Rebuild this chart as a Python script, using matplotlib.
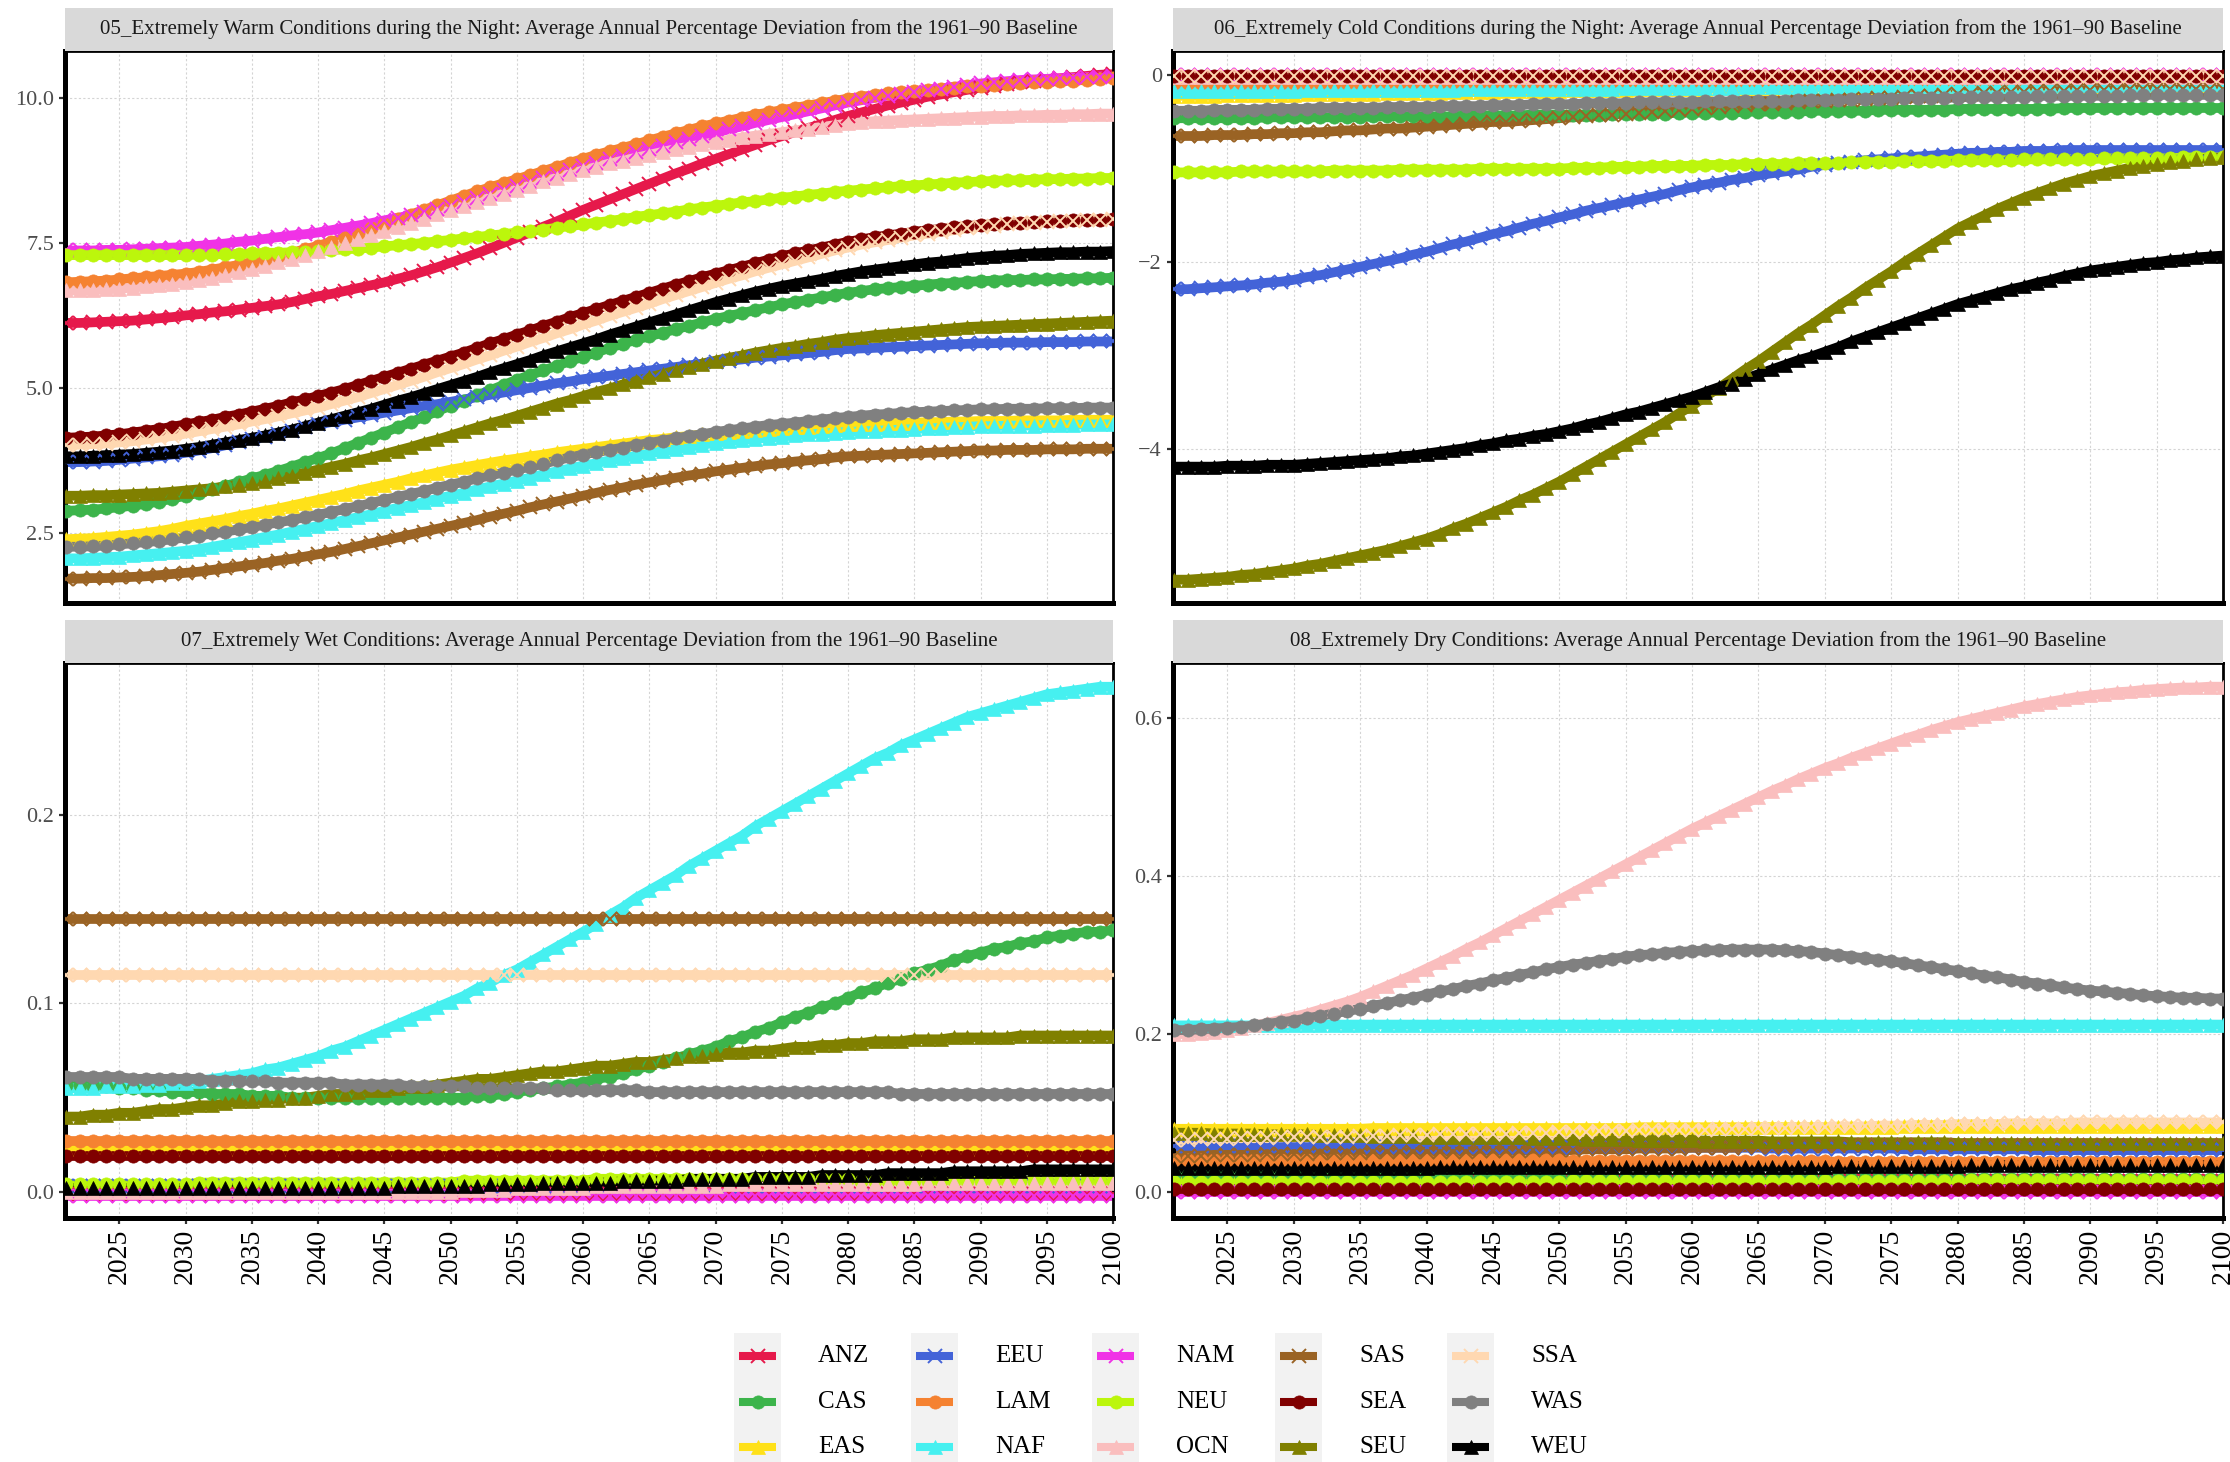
import matplotlib
matplotlib.use("Agg")
import matplotlib.pyplot as plt
from matplotlib.patches import Rectangle
from matplotlib.lines import Line2D

plt.rcParams['font.family'] = ['Liberation Serif', 'DejaVu Serif']

years = list(range(2021, 2101))
regions = ["ANZ", "CAS", "EAS", "EEU", "LAM", "NAF", "NAM", "NEU",
           "OCN", "SAS", "SEA", "SEU", "SSA", "WAS", "WEU"]
colors = {"ANZ": "#e6194b", "CAS": "#3cb44b", "EAS": "#ffe119", "EEU": "#4363d8",
          "LAM": "#f58231", "NAF": "#46f0f0", "NAM": "#f032e6", "NEU": "#bcf60c",
          "OCN": "#fabebe", "SAS": "#9a6324", "SEA": "#800000", "SEU": "#808000",
          "SSA": "#ffd8b1", "WAS": "#808080", "WEU": "#000000"}
markers = {"ANZ": "x", "EEU": "x", "NAM": "x", "SAS": "x", "SSA": "x",
           "CAS": "o", "LAM": "o", "NEU": "o", "SEA": "o", "WAS": "o",
           "EAS": "^", "NAF": "^", "OCN": "^", "SEU": "^", "WEU": "^"}

titles = [
    "05_Extremely Warm Conditions during the Night: Average Annual Percentage Deviation from the 1961\u201390 Baseline",
    "06_Extremely Cold Conditions during the Night: Average Annual Percentage Deviation from the 1961\u201390 Baseline",
    "07_Extremely Wet Conditions: Average Annual Percentage Deviation from the 1961\u201390 Baseline",
    "08_Extremely Dry Conditions: Average Annual Percentage Deviation from the 1961\u201390 Baseline",
]

# ---- 05 warm nights (one value per year 2021..2100) ----
warm_ANZ = [6.12,6.12,6.13,6.14,6.15,6.16,6.18,6.20,6.22,6.25,
            6.27,6.30,6.32,6.35,6.38,6.41,6.44,6.48,6.53,6.58,
            6.62,6.67,6.72,6.77,6.82,6.88,6.94,7.01,7.08,7.16,
            7.24,7.32,7.41,7.50,7.59,7.68,7.78,7.87,7.97,8.07,
            8.16,8.25,8.34,8.43,8.52,8.61,8.70,8.78,8.87,8.95,
            9.03,9.11,9.19,9.27,9.34,9.41,9.48,9.55,9.62,9.69,
            9.75,9.81,9.87,9.92,9.97,10.02,10.06,10.10,10.14,10.18,
            10.21,10.24,10.27,10.30,10.32,10.34,10.36,10.38,10.40,10.41]
warm_CAS = [2.88,2.89,2.90,2.92,2.94,2.97,3.00,3.04,3.09,3.14,
            3.19,3.25,3.31,3.37,3.44,3.50,3.57,3.64,3.72,3.79,
            3.87,3.96,4.05,4.14,4.23,4.32,4.41,4.50,4.60,4.69,
            4.78,4.87,4.96,5.05,5.14,5.22,5.30,5.38,5.46,5.54,
            5.61,5.69,5.76,5.83,5.89,5.95,6.01,6.07,6.13,6.19,
            6.24,6.29,6.34,6.39,6.44,6.48,6.52,6.56,6.60,6.64,
            6.67,6.70,6.72,6.74,6.76,6.78,6.80,6.81,6.83,6.84,
            6.85,6.86,6.86,6.87,6.87,6.88,6.88,6.89,6.89,6.90]
warm_EAS = [2.39,2.40,2.41,2.43,2.45,2.47,2.50,2.53,2.57,2.62,
            2.66,2.70,2.74,2.79,2.83,2.88,2.92,2.97,3.02,3.07,
            3.12,3.17,3.23,3.28,3.33,3.38,3.44,3.49,3.54,3.59,
            3.63,3.67,3.71,3.75,3.78,3.82,3.85,3.89,3.92,3.95,
            3.98,4.01,4.04,4.07,4.10,4.12,4.15,4.17,4.20,4.22,
            4.24,4.26,4.28,4.29,4.31,4.32,4.33,4.35,4.36,4.37,
            4.38,4.38,4.39,4.40,4.40,4.41,4.41,4.42,4.42,4.43,
            4.43,4.43,4.44,4.44,4.44,4.44,4.45,4.45,4.45,4.45]
warm_EEU = [3.72,3.72,3.73,3.74,3.76,3.78,3.80,3.82,3.85,3.88,
            3.92,3.96,4.01,4.06,4.11,4.16,4.21,4.26,4.32,4.37,
            4.41,4.45,4.49,4.53,4.57,4.61,4.65,4.69,4.72,4.76,
            4.80,4.84,4.88,4.92,4.96,5.00,5.04,5.08,5.11,5.15,
            5.18,5.21,5.24,5.27,5.30,5.33,5.36,5.39,5.41,5.44,
            5.47,5.49,5.52,5.54,5.56,5.58,5.60,5.62,5.65,5.67,
            5.68,5.69,5.70,5.71,5.72,5.73,5.74,5.75,5.76,5.77,
            5.77,5.78,5.78,5.78,5.79,5.79,5.79,5.80,5.80,5.80]
warm_LAM = [6.82,6.83,6.84,6.85,6.87,6.89,6.91,6.93,6.95,6.97,
            7.00,7.04,7.08,7.12,7.17,7.22,7.27,7.33,7.39,7.45,
            7.52,7.59,7.67,7.75,7.83,7.91,7.99,8.07,8.15,8.23,
            8.31,8.39,8.46,8.53,8.60,8.67,8.74,8.81,8.88,8.95,
            9.02,9.08,9.14,9.20,9.27,9.33,9.39,9.45,9.51,9.56,
            9.61,9.66,9.71,9.75,9.79,9.83,9.87,9.91,9.95,9.99,
            10.02,10.05,10.08,10.10,10.12,10.14,10.16,10.18,10.20,10.21,
            10.23,10.24,10.26,10.27,10.28,10.29,10.30,10.31,10.33,10.34]
warm_NAF = [2.06,2.06,2.07,2.08,2.09,2.11,2.13,2.15,2.17,2.19,
            2.22,2.26,2.30,2.34,2.38,2.43,2.47,2.52,2.57,2.62,
            2.67,2.72,2.77,2.82,2.88,2.93,2.98,3.03,3.09,3.14,
            3.19,3.25,3.30,3.35,3.40,3.45,3.51,3.56,3.61,3.66,
            3.70,3.75,3.79,3.83,3.87,3.91,3.94,3.98,4.02,4.05,
            4.08,4.10,4.12,4.14,4.16,4.18,4.20,4.21,4.23,4.24,
            4.25,4.26,4.27,4.28,4.29,4.30,4.31,4.32,4.33,4.34,
            4.34,4.35,4.35,4.35,4.36,4.36,4.36,4.37,4.37,4.37]
warm_NAM = [7.37,7.37,7.37,7.38,7.38,7.39,7.40,7.41,7.42,7.43,
            7.45,7.47,7.49,7.52,7.54,7.57,7.60,7.63,7.65,7.68,
            7.72,7.76,7.80,7.84,7.89,7.93,7.98,8.03,8.08,8.14,
            8.20,8.27,8.34,8.41,8.48,8.55,8.62,8.69,8.76,8.82,
            8.88,8.94,9.00,9.06,9.12,9.18,9.24,9.29,9.35,9.40,
            9.46,9.51,9.57,9.62,9.67,9.72,9.77,9.82,9.87,9.92,
            9.96,10.00,10.04,10.07,10.10,10.13,10.16,10.19,10.22,10.25,
            10.27,10.29,10.31,10.32,10.33,10.34,10.35,10.36,10.37,10.38]
warm_NEU = [7.29,7.29,7.29,7.29,7.29,7.29,7.29,7.29,7.29,7.29,
            7.30,7.30,7.31,7.31,7.32,7.33,7.33,7.34,7.35,7.36,
            7.37,7.39,7.40,7.42,7.44,7.46,7.48,7.50,7.53,7.55,
            7.58,7.60,7.63,7.65,7.68,7.71,7.73,7.76,7.79,7.82,
            7.85,7.88,7.91,7.95,7.98,8.01,8.04,8.08,8.11,8.14,
            8.17,8.20,8.22,8.25,8.28,8.30,8.33,8.35,8.38,8.40,
            8.42,8.44,8.46,8.48,8.49,8.51,8.52,8.54,8.55,8.56,
            8.57,8.58,8.58,8.59,8.60,8.60,8.61,8.61,8.62,8.62]
warm_OCN = [6.68,6.68,6.69,6.70,6.71,6.73,6.75,6.77,6.79,6.82,
            6.86,6.90,6.95,7.00,7.05,7.11,7.17,7.23,7.30,7.36,
            7.43,7.50,7.57,7.64,7.71,7.78,7.85,7.92,8.00,8.07,
            8.14,8.21,8.28,8.35,8.42,8.49,8.56,8.62,8.69,8.75,
            8.81,8.87,8.92,8.97,9.02,9.07,9.12,9.16,9.20,9.24,
            9.28,9.32,9.35,9.38,9.41,9.44,9.47,9.50,9.53,9.56,
            9.58,9.60,9.61,9.62,9.63,9.64,9.65,9.66,9.67,9.68,
            9.69,9.69,9.70,9.70,9.71,9.71,9.72,9.72,9.73,9.73]
warm_SAS = [1.71,1.71,1.72,1.72,1.73,1.74,1.75,1.77,1.79,1.81,
            1.83,1.86,1.89,1.92,1.95,1.98,2.02,2.05,2.09,2.13,
            2.17,2.22,2.27,2.32,2.37,2.42,2.47,2.52,2.57,2.62,
            2.67,2.72,2.78,2.83,2.88,2.94,2.99,3.04,3.09,3.14,
            3.19,3.24,3.28,3.33,3.37,3.41,3.45,3.49,3.52,3.56,
            3.59,3.62,3.65,3.68,3.70,3.73,3.75,3.77,3.80,3.82,
            3.83,3.84,3.85,3.86,3.87,3.88,3.89,3.90,3.91,3.92,
            3.92,3.93,3.93,3.93,3.94,3.94,3.94,3.95,3.95,3.95]
warm_SEA = [4.14,4.15,4.16,4.18,4.20,4.23,4.26,4.29,4.33,4.37,
            4.41,4.45,4.50,4.54,4.59,4.64,4.69,4.75,4.80,4.86,
            4.92,4.98,5.05,5.12,5.19,5.26,5.33,5.40,5.47,5.54,
            5.61,5.69,5.77,5.84,5.92,5.99,6.07,6.14,6.22,6.29,
            6.36,6.43,6.50,6.57,6.64,6.71,6.78,6.84,6.91,6.97,
            7.03,7.09,7.15,7.21,7.27,7.32,7.37,7.42,7.47,7.52,
            7.56,7.60,7.63,7.66,7.69,7.72,7.74,7.77,7.79,7.81,
            7.82,7.84,7.85,7.86,7.87,7.88,7.89,7.90,7.90,7.91]
warm_SEU = [3.14,3.14,3.15,3.15,3.16,3.17,3.18,3.19,3.21,3.23,
            3.25,3.27,3.30,3.33,3.36,3.40,3.44,3.48,3.54,3.59,
            3.64,3.69,3.75,3.80,3.86,3.92,3.98,4.05,4.11,4.18,
            4.25,4.32,4.39,4.45,4.52,4.59,4.66,4.73,4.79,4.86,
            4.93,4.99,5.06,5.12,5.18,5.24,5.30,5.36,5.42,5.47,
            5.52,5.56,5.61,5.65,5.69,5.72,5.76,5.79,5.83,5.86,
            5.88,5.91,5.93,5.95,5.97,5.99,6.01,6.03,6.05,6.06,
            6.07,6.08,6.09,6.10,6.11,6.12,6.13,6.14,6.15,6.16]
warm_SSA = [4.01,4.02,4.03,4.04,4.06,4.08,4.11,4.14,4.17,4.21,
            4.25,4.29,4.33,4.37,4.42,4.46,4.51,4.56,4.61,4.66,
            4.72,4.78,4.84,4.91,4.98,5.05,5.12,5.19,5.27,5.34,
            5.41,5.49,5.56,5.64,5.71,5.79,5.86,5.94,6.01,6.09,
            6.16,6.24,6.31,6.38,6.45,6.53,6.60,6.67,6.74,6.81,
            6.88,6.94,7.01,7.07,7.13,7.19,7.25,7.31,7.37,7.42,
            7.47,7.51,7.55,7.59,7.63,7.66,7.69,7.72,7.75,7.78,
            7.80,7.82,7.84,7.85,7.86,7.87,7.88,7.89,7.90,7.91]
warm_WAS = [2.26,2.26,2.27,2.28,2.30,2.32,2.34,2.36,2.39,2.42,
            2.45,2.49,2.52,2.56,2.60,2.64,2.68,2.72,2.77,2.81,
            2.86,2.91,2.96,3.01,3.07,3.12,3.17,3.22,3.28,3.33,
            3.38,3.44,3.49,3.54,3.59,3.64,3.69,3.75,3.80,3.85,
            3.89,3.93,3.97,4.01,4.05,4.09,4.13,4.17,4.20,4.24,
            4.27,4.30,4.33,4.36,4.38,4.40,4.43,4.45,4.48,4.50,
            4.52,4.54,4.55,4.57,4.58,4.59,4.60,4.61,4.62,4.63,
            4.63,4.64,4.64,4.64,4.65,4.65,4.65,4.66,4.66,4.66]
warm_WEU = [3.82,3.82,3.83,3.84,3.85,3.86,3.88,3.90,3.92,3.95,
            3.98,4.02,4.06,4.10,4.14,4.18,4.23,4.28,4.34,4.40,
            4.46,4.52,4.58,4.64,4.71,4.78,4.84,4.91,4.98,5.05,
            5.12,5.19,5.27,5.34,5.41,5.48,5.56,5.63,5.70,5.77,
            5.84,5.92,5.99,6.06,6.13,6.20,6.27,6.34,6.41,6.48,
            6.54,6.60,6.66,6.71,6.76,6.80,6.84,6.88,6.93,6.97,
            7.01,7.04,7.07,7.10,7.13,7.16,7.18,7.21,7.24,7.26,
            7.28,7.29,7.31,7.32,7.33,7.34,7.34,7.35,7.35,7.36]

# ---- 06 cold nights ----
cold_ANZ = [-0.01,-0.01,-0.01,-0.01,-0.01,-0.01,-0.01,-0.01,-0.01,-0.01,
            -0.01,-0.01,-0.01,-0.01,-0.01,-0.01,-0.01,-0.01,-0.01,-0.01,
            -0.01,-0.01,-0.01,-0.01,-0.01,-0.01,-0.01,-0.01,-0.01,-0.01,
            -0.01,-0.01,-0.01,-0.01,-0.01,-0.01,-0.01,-0.01,-0.01,-0.01,
            -0.01,-0.01,-0.01,-0.01,-0.01,-0.01,-0.01,-0.01,-0.01,-0.01,
            -0.01,-0.01,-0.01,-0.01,-0.01,-0.01,-0.01,-0.01,-0.01,-0.01,
            -0.01,-0.01,-0.01,-0.01,-0.01,-0.01,-0.01,-0.01,-0.01,-0.01,
            -0.01,-0.01,-0.01,-0.01,-0.01,-0.01,-0.01,-0.01,-0.01,-0.01]
cold_CAS = [-0.46,-0.46,-0.46,-0.46,-0.46,-0.46,-0.46,-0.45,-0.45,-0.45,
            -0.45,-0.45,-0.45,-0.45,-0.45,-0.44,-0.44,-0.44,-0.44,-0.44,
            -0.44,-0.44,-0.43,-0.43,-0.43,-0.43,-0.43,-0.42,-0.42,-0.42,
            -0.42,-0.42,-0.42,-0.41,-0.41,-0.41,-0.41,-0.41,-0.40,-0.40,
            -0.40,-0.40,-0.40,-0.39,-0.39,-0.39,-0.39,-0.39,-0.38,-0.38,
            -0.38,-0.38,-0.38,-0.37,-0.37,-0.37,-0.37,-0.37,-0.37,-0.36,
            -0.36,-0.36,-0.36,-0.36,-0.36,-0.36,-0.36,-0.35,-0.35,-0.35,
            -0.35,-0.35,-0.35,-0.35,-0.35,-0.35,-0.35,-0.35,-0.35,-0.35]
cold_EAS = [-0.22,-0.22,-0.22,-0.22,-0.21,-0.21,-0.21,-0.21,-0.21,-0.21,
            -0.20,-0.20,-0.20,-0.20,-0.20,-0.20,-0.19,-0.19,-0.19,-0.19,
            -0.19,-0.18,-0.18,-0.18,-0.18,-0.17,-0.17,-0.17,-0.17,-0.17,
            -0.16,-0.16,-0.16,-0.16,-0.16,-0.15,-0.15,-0.15,-0.15,-0.15,
            -0.15,-0.14,-0.14,-0.14,-0.14,-0.14,-0.13,-0.13,-0.13,-0.13,
            -0.13,-0.13,-0.13,-0.12,-0.12,-0.12,-0.12,-0.12,-0.12,-0.12,
            -0.12,-0.11,-0.11,-0.11,-0.11,-0.11,-0.11,-0.11,-0.11,-0.11,
            -0.11,-0.11,-0.10,-0.10,-0.10,-0.10,-0.10,-0.10,-0.10,-0.10]
cold_EEU = [-2.29,-2.29,-2.28,-2.27,-2.26,-2.25,-2.24,-2.22,-2.21,-2.19,
            -2.16,-2.14,-2.11,-2.08,-2.05,-2.02,-1.99,-1.96,-1.92,-1.89,
            -1.85,-1.81,-1.78,-1.74,-1.70,-1.67,-1.63,-1.59,-1.56,-1.52,
            -1.49,-1.45,-1.42,-1.39,-1.36,-1.33,-1.30,-1.27,-1.23,-1.20,
            -1.17,-1.15,-1.12,-1.10,-1.07,-1.05,-1.03,-1.01,-0.98,-0.96,
            -0.94,-0.93,-0.91,-0.90,-0.89,-0.88,-0.87,-0.86,-0.85,-0.84,
            -0.83,-0.83,-0.82,-0.82,-0.81,-0.81,-0.81,-0.80,-0.80,-0.80,
            -0.80,-0.80,-0.80,-0.80,-0.80,-0.80,-0.80,-0.80,-0.80,-0.80]
cold_LAM = [-0.08,-0.08,-0.08,-0.08,-0.08,-0.08,-0.08,-0.08,-0.08,-0.08,
            -0.08,-0.08,-0.08,-0.08,-0.08,-0.07,-0.07,-0.07,-0.07,-0.07,
            -0.07,-0.07,-0.07,-0.07,-0.07,-0.07,-0.07,-0.07,-0.07,-0.07,
            -0.06,-0.06,-0.06,-0.06,-0.06,-0.06,-0.06,-0.06,-0.06,-0.06,
            -0.06,-0.06,-0.06,-0.06,-0.06,-0.05,-0.05,-0.05,-0.05,-0.05,
            -0.05,-0.05,-0.05,-0.05,-0.05,-0.05,-0.05,-0.05,-0.05,-0.05,
            -0.05,-0.05,-0.05,-0.05,-0.05,-0.04,-0.04,-0.04,-0.04,-0.04,
            -0.04,-0.04,-0.04,-0.04,-0.04,-0.04,-0.04,-0.04,-0.04,-0.04]
cold_NAF = [-0.17,-0.17,-0.17,-0.17,-0.17,-0.17,-0.17,-0.17,-0.17,-0.17,
            -0.16,-0.16,-0.16,-0.16,-0.16,-0.16,-0.16,-0.16,-0.16,-0.16,
            -0.16,-0.16,-0.15,-0.15,-0.15,-0.15,-0.15,-0.15,-0.15,-0.15,
            -0.15,-0.15,-0.15,-0.15,-0.14,-0.14,-0.14,-0.14,-0.14,-0.14,
            -0.14,-0.14,-0.14,-0.13,-0.13,-0.13,-0.13,-0.13,-0.13,-0.13,
            -0.13,-0.12,-0.12,-0.12,-0.12,-0.12,-0.12,-0.12,-0.12,-0.11,
            -0.11,-0.11,-0.11,-0.11,-0.11,-0.11,-0.11,-0.10,-0.10,-0.10,
            -0.10,-0.10,-0.10,-0.10,-0.09,-0.09,-0.09,-0.09,-0.09,-0.09]
cold_NAM = [0.00,0.00,0.00,0.00,0.00,0.00,0.00,0.00,0.00,0.00,
            0.00,0.00,0.00,0.00,0.00,0.00,0.00,0.00,0.00,0.00,
            0.00,0.00,0.00,0.00,0.00,0.00,0.00,0.00,0.00,0.00,
            0.00,0.00,0.00,0.00,0.00,0.00,0.00,0.00,0.00,0.00,
            0.00,0.00,0.00,0.00,0.00,0.00,0.00,0.00,0.00,0.00,
            0.00,0.00,0.00,0.00,0.00,0.00,0.00,0.00,0.00,0.00,
            0.00,0.00,0.00,0.00,0.00,0.00,0.00,0.00,0.00,0.00,
            0.00,0.00,0.00,0.00,0.00,0.00,0.00,0.00,0.00,0.00]
cold_NEU = [-1.04,-1.04,-1.04,-1.04,-1.04,-1.03,-1.03,-1.03,-1.03,-1.03,
            -1.03,-1.03,-1.02,-1.02,-1.02,-1.02,-1.02,-1.01,-1.01,-1.01,
            -1.01,-1.01,-1.01,-1.00,-1.00,-1.00,-1.00,-1.00,-1.00,-1.00,
            -0.99,-0.99,-0.99,-0.98,-0.98,-0.98,-0.97,-0.97,-0.97,-0.97,
            -0.96,-0.96,-0.96,-0.95,-0.95,-0.95,-0.95,-0.94,-0.94,-0.94,
            -0.94,-0.93,-0.93,-0.93,-0.93,-0.92,-0.92,-0.92,-0.92,-0.91,
            -0.91,-0.91,-0.91,-0.91,-0.90,-0.90,-0.90,-0.90,-0.90,-0.90,
            -0.89,-0.89,-0.89,-0.89,-0.89,-0.89,-0.88,-0.88,-0.88,-0.88]
cold_OCN = [-0.02,-0.02,-0.02,-0.02,-0.02,-0.02,-0.02,-0.02,-0.02,-0.02,
            -0.02,-0.02,-0.02,-0.02,-0.02,-0.02,-0.02,-0.02,-0.02,-0.02,
            -0.02,-0.02,-0.02,-0.02,-0.02,-0.02,-0.02,-0.02,-0.02,-0.02,
            -0.02,-0.02,-0.02,-0.02,-0.02,-0.02,-0.02,-0.02,-0.02,-0.02,
            -0.02,-0.02,-0.02,-0.02,-0.02,-0.02,-0.02,-0.02,-0.02,-0.02,
            -0.02,-0.02,-0.02,-0.02,-0.02,-0.02,-0.02,-0.02,-0.02,-0.02,
            -0.02,-0.02,-0.02,-0.02,-0.02,-0.02,-0.02,-0.02,-0.02,-0.02,
            -0.02,-0.02,-0.02,-0.02,-0.02,-0.02,-0.02,-0.02,-0.02,-0.02]
cold_SAS = [-0.65,-0.65,-0.65,-0.64,-0.64,-0.64,-0.63,-0.63,-0.62,-0.62,
            -0.61,-0.61,-0.60,-0.59,-0.59,-0.58,-0.57,-0.57,-0.56,-0.55,
            -0.54,-0.53,-0.52,-0.51,-0.50,-0.50,-0.49,-0.48,-0.47,-0.46,
            -0.45,-0.44,-0.43,-0.42,-0.41,-0.40,-0.39,-0.38,-0.37,-0.36,
            -0.35,-0.34,-0.33,-0.32,-0.31,-0.31,-0.30,-0.29,-0.28,-0.27,
            -0.26,-0.26,-0.25,-0.24,-0.24,-0.23,-0.22,-0.22,-0.21,-0.20,
            -0.20,-0.19,-0.19,-0.18,-0.18,-0.17,-0.17,-0.17,-0.16,-0.16,
            -0.16,-0.16,-0.15,-0.15,-0.15,-0.15,-0.15,-0.15,-0.15,-0.15]
cold_SEA = [-0.01,-0.01,-0.01,-0.01,-0.01,-0.01,-0.01,-0.01,-0.01,-0.01,
            -0.01,-0.01,-0.01,-0.01,-0.01,-0.01,-0.01,-0.01,-0.01,-0.01,
            -0.01,-0.01,-0.01,-0.01,-0.01,-0.01,-0.01,-0.01,-0.01,-0.01,
            -0.01,-0.01,-0.01,-0.01,-0.01,-0.01,-0.01,-0.01,-0.01,-0.01,
            -0.01,-0.01,-0.01,-0.01,-0.01,-0.01,-0.01,-0.01,-0.01,-0.01,
            -0.01,-0.01,-0.01,-0.01,-0.01,-0.01,-0.01,-0.01,-0.01,-0.01,
            -0.01,-0.01,-0.01,-0.01,-0.01,-0.01,-0.01,-0.01,-0.01,-0.01,
            -0.01,-0.01,-0.01,-0.01,-0.01,-0.01,-0.01,-0.01,-0.01,-0.01]
cold_SEU = [-5.40,-5.40,-5.39,-5.38,-5.37,-5.35,-5.34,-5.32,-5.30,-5.28,
            -5.25,-5.23,-5.20,-5.17,-5.14,-5.11,-5.08,-5.04,-5.00,-4.96,
            -4.91,-4.85,-4.80,-4.74,-4.68,-4.62,-4.55,-4.49,-4.42,-4.35,
            -4.27,-4.19,-4.11,-4.03,-3.95,-3.87,-3.79,-3.71,-3.62,-3.54,
            -3.44,-3.35,-3.25,-3.15,-3.06,-2.96,-2.86,-2.76,-2.67,-2.57,
            -2.47,-2.38,-2.28,-2.19,-2.10,-2.00,-1.91,-1.82,-1.73,-1.64,
            -1.57,-1.50,-1.43,-1.37,-1.31,-1.26,-1.21,-1.16,-1.12,-1.08,
            -1.05,-1.02,-0.99,-0.97,-0.95,-0.93,-0.92,-0.90,-0.89,-0.88]
cold_SSA = [-0.01,-0.01,-0.01,-0.01,-0.01,-0.01,-0.01,-0.01,-0.01,-0.01,
            -0.01,-0.01,-0.01,-0.01,-0.01,-0.01,-0.01,-0.01,-0.01,-0.01,
            -0.01,-0.01,-0.01,-0.01,-0.01,-0.01,-0.01,-0.01,-0.01,-0.01,
            -0.01,-0.01,-0.01,-0.01,-0.01,-0.01,-0.01,-0.01,-0.01,-0.01,
            -0.01,-0.01,-0.01,-0.01,-0.01,-0.01,-0.01,-0.01,-0.01,-0.01,
            -0.01,-0.01,-0.01,-0.01,-0.01,-0.01,-0.01,-0.01,-0.01,-0.01,
            -0.01,-0.01,-0.01,-0.01,-0.01,-0.01,-0.01,-0.01,-0.01,-0.01,
            -0.01,-0.01,-0.01,-0.01,-0.01,-0.01,-0.01,-0.01,-0.01,-0.01]
cold_WAS = [-0.38,-0.38,-0.38,-0.37,-0.37,-0.37,-0.37,-0.36,-0.36,-0.36,
            -0.36,-0.35,-0.35,-0.35,-0.35,-0.35,-0.34,-0.34,-0.34,-0.34,
            -0.33,-0.33,-0.33,-0.33,-0.32,-0.32,-0.32,-0.31,-0.31,-0.31,
            -0.31,-0.30,-0.30,-0.30,-0.30,-0.29,-0.29,-0.29,-0.29,-0.29,
            -0.28,-0.28,-0.28,-0.27,-0.27,-0.27,-0.27,-0.26,-0.26,-0.26,
            -0.26,-0.25,-0.25,-0.25,-0.25,-0.24,-0.24,-0.24,-0.24,-0.24,
            -0.23,-0.23,-0.23,-0.23,-0.23,-0.22,-0.22,-0.22,-0.22,-0.22,
            -0.22,-0.22,-0.21,-0.21,-0.21,-0.21,-0.21,-0.21,-0.21,-0.21]
cold_WEU = [-4.19,-4.19,-4.19,-4.19,-4.18,-4.18,-4.18,-4.17,-4.17,-4.17,
            -4.16,-4.15,-4.14,-4.13,-4.12,-4.11,-4.10,-4.08,-4.07,-4.05,
            -4.03,-4.01,-3.99,-3.96,-3.94,-3.91,-3.89,-3.86,-3.84,-3.81,
            -3.78,-3.74,-3.71,-3.67,-3.63,-3.60,-3.56,-3.52,-3.48,-3.44,
            -3.39,-3.34,-3.30,-3.25,-3.20,-3.15,-3.10,-3.05,-3.01,-2.96,
            -2.91,-2.85,-2.80,-2.75,-2.70,-2.65,-2.60,-2.55,-2.50,-2.45,
            -2.41,-2.37,-2.33,-2.29,-2.26,-2.22,-2.19,-2.15,-2.12,-2.09,
            -2.07,-2.05,-2.03,-2.01,-2.00,-1.98,-1.97,-1.95,-1.94,-1.93]

# ---- 07 wet conditions ----
wet_ANZ = [-0.001,-0.001,-0.001,-0.001,-0.001,-0.001,-0.001,-0.001,-0.001,-0.001,
           -0.001,-0.001,-0.001,-0.001,-0.001,-0.001,-0.001,-0.001,-0.001,-0.001,
           -0.001,-0.001,-0.001,-0.001,-0.001,-0.001,-0.001,-0.001,-0.001,-0.001,
           -0.001,-0.001,-0.001,-0.001,-0.001,-0.001,-0.001,-0.001,-0.001,-0.001,
           -0.001,-0.001,-0.001,-0.001,-0.001,-0.001,-0.001,-0.001,-0.001,-0.001,
           -0.001,-0.001,-0.001,-0.001,-0.001,-0.001,-0.001,-0.001,-0.001,-0.001,
           -0.001,-0.001,-0.001,-0.001,-0.001,-0.001,-0.001,-0.001,-0.001,-0.001,
           -0.001,-0.001,-0.001,-0.001,-0.001,-0.001,-0.001,-0.001,-0.001,-0.001]
wet_CAS = [0.057,0.057,0.056,0.056,0.055,0.055,0.054,0.054,0.053,0.053,
           0.053,0.052,0.052,0.052,0.051,0.051,0.051,0.050,0.050,0.050,
           0.050,0.050,0.050,0.050,0.050,0.050,0.050,0.050,0.050,0.050,
           0.050,0.051,0.051,0.052,0.053,0.054,0.055,0.056,0.057,0.058,
           0.060,0.061,0.063,0.065,0.067,0.069,0.071,0.073,0.075,0.077,
           0.080,0.082,0.085,0.087,0.090,0.093,0.095,0.098,0.100,0.103,
           0.106,0.108,0.111,0.113,0.116,0.118,0.120,0.123,0.125,0.127,
           0.129,0.130,0.132,0.133,0.135,0.136,0.137,0.138,0.138,0.139]
wet_EAS = [0.023,0.023,0.023,0.023,0.023,0.023,0.023,0.023,0.023,0.023,
           0.023,0.023,0.023,0.023,0.023,0.023,0.023,0.023,0.023,0.023,
           0.023,0.023,0.023,0.023,0.023,0.023,0.023,0.023,0.023,0.023,
           0.023,0.023,0.023,0.023,0.023,0.023,0.023,0.023,0.023,0.023,
           0.023,0.023,0.023,0.023,0.023,0.023,0.023,0.023,0.023,0.023,
           0.023,0.023,0.023,0.023,0.023,0.023,0.023,0.023,0.023,0.023,
           0.023,0.023,0.023,0.023,0.023,0.023,0.023,0.023,0.023,0.023,
           0.023,0.023,0.023,0.023,0.023,0.023,0.023,0.023,0.023,0.023]
wet_EEU = [0.003,0.003,0.003,0.003,0.003,0.003,0.003,0.003,0.003,0.003,
           0.003,0.003,0.003,0.003,0.003,0.003,0.003,0.003,0.003,0.003,
           0.003,0.003,0.003,0.003,0.003,0.003,0.003,0.003,0.003,0.003,
           0.003,0.003,0.003,0.003,0.003,0.003,0.003,0.003,0.003,0.003,
           0.003,0.003,0.003,0.003,0.003,0.003,0.003,0.003,0.003,0.003,
           0.003,0.003,0.003,0.003,0.003,0.003,0.003,0.003,0.003,0.003,
           0.003,0.003,0.003,0.003,0.003,0.003,0.003,0.003,0.003,0.003,
           0.003,0.003,0.003,0.003,0.003,0.003,0.003,0.003,0.003,0.003]
wet_LAM = [0.027,0.027,0.027,0.027,0.027,0.027,0.027,0.027,0.027,0.027,
           0.027,0.027,0.027,0.027,0.027,0.027,0.027,0.027,0.027,0.027,
           0.027,0.027,0.027,0.027,0.027,0.027,0.027,0.027,0.027,0.027,
           0.027,0.027,0.027,0.027,0.027,0.027,0.027,0.027,0.027,0.027,
           0.027,0.027,0.027,0.027,0.027,0.027,0.027,0.027,0.027,0.027,
           0.027,0.027,0.027,0.027,0.027,0.027,0.027,0.027,0.027,0.027,
           0.027,0.027,0.027,0.027,0.027,0.027,0.027,0.027,0.027,0.027,
           0.027,0.027,0.027,0.027,0.027,0.027,0.027,0.027,0.027,0.027]
wet_NAF = [0.055,0.055,0.055,0.056,0.056,0.056,0.057,0.057,0.058,0.058,
           0.059,0.060,0.061,0.062,0.063,0.065,0.066,0.068,0.070,0.072,
           0.075,0.077,0.080,0.083,0.086,0.089,0.092,0.095,0.098,0.101,
           0.104,0.108,0.111,0.115,0.118,0.122,0.126,0.130,0.134,0.138,
           0.142,0.147,0.151,0.156,0.160,0.164,0.168,0.173,0.177,0.181,
           0.185,0.189,0.194,0.198,0.202,0.206,0.210,0.214,0.218,0.222,
           0.226,0.230,0.233,0.237,0.240,0.243,0.246,0.249,0.252,0.254,
           0.256,0.258,0.260,0.262,0.264,0.265,0.266,0.267,0.268,0.268]
wet_NAM = [-0.002,-0.002,-0.002,-0.002,-0.002,-0.002,-0.002,-0.002,-0.002,-0.002,
           -0.002,-0.002,-0.002,-0.002,-0.002,-0.002,-0.002,-0.002,-0.002,-0.002,
           -0.002,-0.002,-0.002,-0.002,-0.002,-0.002,-0.002,-0.002,-0.002,-0.002,
           -0.002,-0.002,-0.002,-0.002,-0.002,-0.002,-0.002,-0.002,-0.002,-0.002,
           -0.002,-0.002,-0.002,-0.002,-0.002,-0.002,-0.002,-0.002,-0.002,-0.002,
           -0.002,-0.002,-0.002,-0.002,-0.002,-0.002,-0.002,-0.002,-0.002,-0.002,
           -0.002,-0.002,-0.002,-0.002,-0.002,-0.002,-0.002,-0.002,-0.002,-0.002,
           -0.002,-0.002,-0.002,-0.002,-0.002,-0.002,-0.002,-0.002,-0.002,-0.002]
wet_NEU = [0.004,0.004,0.004,0.004,0.004,0.004,0.004,0.004,0.004,0.004,
           0.005,0.005,0.005,0.005,0.005,0.005,0.005,0.005,0.005,0.005,
           0.005,0.005,0.005,0.005,0.005,0.005,0.005,0.005,0.005,0.005,
           0.006,0.006,0.006,0.006,0.006,0.006,0.006,0.006,0.006,0.006,
           0.007,0.007,0.007,0.007,0.007,0.007,0.007,0.007,0.007,0.007,
           0.007,0.007,0.007,0.007,0.007,0.007,0.007,0.007,0.007,0.007,
           0.006,0.006,0.006,0.006,0.006,0.006,0.006,0.006,0.006,0.006,
           0.006,0.006,0.006,0.006,0.006,0.006,0.006,0.006,0.006,0.006]
wet_OCN = [0.000,0.000,0.000,0.000,0.000,0.000,0.000,0.000,0.000,0.000,
           0.000,0.000,0.000,0.000,0.000,0.000,0.000,0.000,0.000,0.000,
           0.000,0.000,0.000,0.000,0.000,0.000,0.000,0.000,0.000,0.000,
           0.001,0.001,0.001,0.001,0.002,0.002,0.002,0.002,0.002,0.002,
           0.003,0.003,0.003,0.003,0.003,0.003,0.003,0.003,0.003,0.003,
           0.004,0.004,0.004,0.004,0.004,0.004,0.004,0.004,0.004,0.004,
           0.004,0.004,0.004,0.004,0.004,0.005,0.005,0.005,0.005,0.005,
           0.005,0.005,0.005,0.005,0.005,0.005,0.005,0.005,0.005,0.005]
wet_SAS = [0.145,0.145,0.145,0.145,0.145,0.145,0.145,0.145,0.145,0.145,
           0.145,0.145,0.145,0.145,0.145,0.145,0.145,0.145,0.145,0.145,
           0.145,0.145,0.145,0.145,0.145,0.145,0.145,0.145,0.145,0.145,
           0.145,0.145,0.145,0.145,0.145,0.145,0.145,0.145,0.145,0.145,
           0.145,0.145,0.145,0.145,0.145,0.145,0.145,0.145,0.145,0.145,
           0.145,0.145,0.145,0.145,0.145,0.145,0.145,0.145,0.145,0.145,
           0.145,0.145,0.145,0.145,0.145,0.145,0.145,0.145,0.145,0.145,
           0.145,0.145,0.145,0.145,0.145,0.145,0.145,0.145,0.145,0.145]
wet_SEA = [0.019,0.019,0.019,0.019,0.019,0.019,0.019,0.019,0.019,0.019,
           0.019,0.019,0.019,0.019,0.019,0.019,0.019,0.019,0.019,0.019,
           0.019,0.019,0.019,0.019,0.019,0.019,0.019,0.019,0.019,0.019,
           0.019,0.019,0.019,0.019,0.019,0.019,0.019,0.019,0.019,0.019,
           0.019,0.019,0.019,0.019,0.019,0.019,0.019,0.019,0.019,0.019,
           0.019,0.019,0.019,0.019,0.019,0.019,0.019,0.019,0.019,0.019,
           0.019,0.019,0.019,0.019,0.019,0.019,0.019,0.019,0.019,0.019,
           0.019,0.019,0.019,0.019,0.019,0.019,0.019,0.019,0.019,0.019]
wet_SEU = [0.040,0.040,0.041,0.041,0.042,0.042,0.043,0.044,0.044,0.045,
           0.046,0.046,0.047,0.048,0.048,0.049,0.049,0.050,0.050,0.051,
           0.052,0.052,0.053,0.054,0.054,0.055,0.056,0.056,0.057,0.058,
           0.059,0.060,0.060,0.061,0.062,0.063,0.064,0.064,0.065,0.066,
           0.067,0.067,0.068,0.069,0.069,0.070,0.071,0.072,0.072,0.073,
           0.074,0.074,0.075,0.075,0.076,0.077,0.077,0.078,0.078,0.079,
           0.079,0.080,0.080,0.080,0.081,0.081,0.081,0.082,0.082,0.082,
           0.082,0.082,0.083,0.083,0.083,0.083,0.083,0.083,0.083,0.083]
wet_SSA = [0.115,0.115,0.115,0.115,0.115,0.115,0.115,0.115,0.115,0.115,
           0.115,0.115,0.115,0.115,0.115,0.115,0.115,0.115,0.115,0.115,
           0.115,0.115,0.115,0.115,0.115,0.115,0.115,0.115,0.115,0.115,
           0.115,0.115,0.115,0.115,0.115,0.115,0.115,0.115,0.115,0.115,
           0.115,0.115,0.115,0.115,0.115,0.115,0.115,0.115,0.115,0.115,
           0.115,0.115,0.115,0.115,0.115,0.115,0.115,0.115,0.115,0.115,
           0.115,0.115,0.115,0.115,0.115,0.115,0.115,0.115,0.115,0.115,
           0.115,0.115,0.115,0.115,0.115,0.115,0.115,0.115,0.115,0.115]
wet_WAS = [0.061,0.061,0.061,0.061,0.061,0.060,0.060,0.060,0.060,0.060,
           0.060,0.059,0.059,0.059,0.059,0.059,0.058,0.058,0.058,0.058,
           0.058,0.057,0.057,0.057,0.057,0.057,0.056,0.056,0.056,0.056,
           0.056,0.055,0.055,0.055,0.055,0.055,0.055,0.054,0.054,0.054,
           0.054,0.054,0.054,0.054,0.053,0.053,0.053,0.053,0.053,0.053,
           0.053,0.053,0.053,0.053,0.053,0.053,0.053,0.053,0.053,0.053,
           0.053,0.053,0.053,0.052,0.052,0.052,0.052,0.052,0.052,0.052,
           0.052,0.052,0.052,0.052,0.052,0.052,0.052,0.052,0.052,0.052]
wet_WEU = [0.002,0.002,0.002,0.002,0.002,0.002,0.002,0.002,0.002,0.002,
           0.002,0.002,0.002,0.002,0.002,0.002,0.002,0.002,0.002,0.002,
           0.002,0.002,0.002,0.002,0.002,0.003,0.003,0.003,0.003,0.003,
           0.003,0.003,0.004,0.004,0.004,0.004,0.005,0.005,0.005,0.005,
           0.005,0.005,0.006,0.006,0.006,0.006,0.006,0.007,0.007,0.007,
           0.007,0.007,0.008,0.008,0.008,0.008,0.008,0.009,0.009,0.009,
           0.009,0.009,0.010,0.010,0.010,0.010,0.010,0.011,0.011,0.011,
           0.011,0.011,0.011,0.012,0.012,0.012,0.012,0.012,0.012,0.012]

# ---- 08 dry conditions ----
dry_ANZ = [0.012,0.012,0.012,0.012,0.012,0.012,0.012,0.012,0.012,0.012,
           0.012,0.012,0.012,0.012,0.012,0.012,0.012,0.012,0.012,0.012,
           0.012,0.012,0.012,0.012,0.012,0.012,0.012,0.012,0.012,0.012,
           0.013,0.013,0.013,0.013,0.013,0.013,0.013,0.013,0.013,0.013,
           0.013,0.013,0.013,0.013,0.013,0.013,0.013,0.013,0.013,0.013,
           0.014,0.014,0.014,0.014,0.014,0.014,0.014,0.014,0.014,0.014,
           0.014,0.014,0.014,0.014,0.014,0.014,0.014,0.014,0.014,0.014,
           0.014,0.014,0.014,0.014,0.014,0.014,0.014,0.014,0.014,0.014]
dry_CAS = [0.021,0.021,0.021,0.021,0.021,0.021,0.021,0.021,0.021,0.021,
           0.020,0.020,0.020,0.020,0.020,0.020,0.020,0.020,0.020,0.020,
           0.019,0.019,0.019,0.019,0.019,0.019,0.019,0.019,0.019,0.019,
           0.018,0.018,0.018,0.018,0.018,0.018,0.018,0.018,0.018,0.018,
           0.018,0.018,0.018,0.018,0.018,0.018,0.018,0.018,0.018,0.018,
           0.017,0.017,0.017,0.017,0.017,0.017,0.017,0.017,0.017,0.017,
           0.017,0.017,0.017,0.017,0.017,0.017,0.017,0.017,0.017,0.017,
           0.016,0.016,0.016,0.016,0.016,0.016,0.016,0.016,0.016,0.016]
dry_EAS = [0.080,0.080,0.080,0.080,0.080,0.080,0.080,0.080,0.080,0.080,
           0.080,0.080,0.080,0.080,0.080,0.081,0.081,0.081,0.081,0.081,
           0.081,0.081,0.081,0.081,0.081,0.081,0.081,0.081,0.081,0.081,
           0.081,0.081,0.081,0.081,0.081,0.082,0.082,0.082,0.082,0.082,
           0.082,0.082,0.082,0.082,0.082,0.082,0.082,0.082,0.082,0.082,
           0.082,0.082,0.082,0.082,0.082,0.083,0.083,0.083,0.083,0.083,
           0.083,0.083,0.083,0.083,0.083,0.083,0.083,0.083,0.083,0.083,
           0.083,0.083,0.083,0.083,0.083,0.083,0.083,0.083,0.083,0.083]
dry_EEU = [0.058,0.058,0.058,0.058,0.058,0.058,0.058,0.058,0.058,0.058,
           0.058,0.058,0.058,0.058,0.058,0.057,0.057,0.057,0.057,0.057,
           0.057,0.057,0.057,0.057,0.057,0.057,0.057,0.057,0.057,0.057,
           0.056,0.056,0.056,0.056,0.056,0.056,0.056,0.056,0.056,0.056,
           0.056,0.056,0.056,0.056,0.056,0.055,0.055,0.055,0.055,0.055,
           0.055,0.055,0.055,0.055,0.055,0.054,0.054,0.054,0.054,0.054,
           0.054,0.054,0.054,0.054,0.054,0.053,0.053,0.053,0.053,0.053,
           0.053,0.053,0.053,0.053,0.053,0.053,0.053,0.053,0.053,0.053]
dry_LAM = [0.040,0.040,0.040,0.040,0.040,0.040,0.040,0.040,0.040,0.040,
           0.040,0.040,0.040,0.040,0.040,0.040,0.040,0.040,0.040,0.040,
           0.040,0.040,0.040,0.040,0.040,0.040,0.040,0.040,0.040,0.040,
           0.039,0.039,0.039,0.039,0.039,0.039,0.039,0.039,0.039,0.039,
           0.039,0.039,0.039,0.039,0.039,0.039,0.039,0.039,0.039,0.039,
           0.038,0.038,0.038,0.038,0.038,0.038,0.038,0.038,0.038,0.038,
           0.038,0.038,0.038,0.038,0.038,0.038,0.038,0.038,0.038,0.038,
           0.038,0.038,0.038,0.038,0.038,0.038,0.038,0.038,0.038,0.038]
dry_NAF = [0.211,0.211,0.211,0.211,0.211,0.211,0.211,0.211,0.211,0.211,
           0.212,0.212,0.212,0.212,0.212,0.212,0.212,0.212,0.212,0.212,
           0.212,0.212,0.212,0.212,0.212,0.212,0.212,0.212,0.212,0.212,
           0.212,0.212,0.212,0.212,0.212,0.212,0.212,0.212,0.212,0.212,
           0.212,0.212,0.212,0.212,0.212,0.212,0.212,0.212,0.212,0.212,
           0.212,0.212,0.212,0.212,0.212,0.212,0.212,0.212,0.212,0.212,
           0.212,0.212,0.212,0.212,0.212,0.212,0.212,0.212,0.212,0.212,
           0.212,0.212,0.212,0.212,0.212,0.212,0.212,0.212,0.212,0.212]
dry_NAM = [0.000,0.000,0.000,0.000,0.000,0.000,0.000,0.000,0.000,0.000,
           0.000,0.000,0.000,0.000,0.000,0.000,0.000,0.000,0.000,0.000,
           0.000,0.000,0.000,0.000,0.000,0.000,0.000,0.000,0.000,0.000,
           0.000,0.000,0.000,0.000,0.000,0.000,0.000,0.000,0.000,0.000,
           0.000,0.000,0.000,0.000,0.000,0.000,0.000,0.000,0.000,0.000,
           0.000,0.000,0.000,0.000,0.000,0.000,0.000,0.000,0.000,0.000,
           0.000,0.000,0.000,0.000,0.000,0.000,0.000,0.000,0.000,0.000,
           0.000,0.000,0.000,0.000,0.000,0.000,0.000,0.000,0.000,0.000]
dry_NEU = [0.013,0.013,0.013,0.013,0.013,0.013,0.013,0.013,0.013,0.013,
           0.013,0.013,0.013,0.013,0.013,0.013,0.013,0.013,0.013,0.013,
           0.013,0.013,0.013,0.013,0.013,0.013,0.013,0.013,0.013,0.013,
           0.014,0.014,0.014,0.014,0.014,0.014,0.014,0.014,0.014,0.014,
           0.014,0.014,0.014,0.014,0.014,0.014,0.014,0.014,0.014,0.014,
           0.014,0.014,0.014,0.014,0.014,0.014,0.014,0.014,0.014,0.014,
           0.015,0.015,0.015,0.015,0.015,0.015,0.015,0.015,0.015,0.015,
           0.015,0.015,0.015,0.015,0.015,0.015,0.015,0.015,0.015,0.015]
dry_OCN = [0.200,0.200,0.201,0.203,0.205,0.208,0.211,0.214,0.218,0.222,
           0.226,0.231,0.236,0.241,0.247,0.254,0.261,0.268,0.275,0.283,
           0.291,0.299,0.308,0.316,0.325,0.334,0.343,0.352,0.361,0.370,
           0.379,0.388,0.397,0.406,0.415,0.424,0.433,0.442,0.451,0.460,
           0.468,0.476,0.484,0.492,0.500,0.508,0.515,0.523,0.530,0.537,
           0.543,0.550,0.556,0.562,0.568,0.574,0.579,0.585,0.590,0.595,
           0.599,0.603,0.607,0.611,0.615,0.618,0.621,0.624,0.627,0.629,
           0.631,0.633,0.634,0.636,0.637,0.638,0.639,0.639,0.640,0.640]
dry_SAS = [0.046,0.046,0.046,0.047,0.047,0.047,0.047,0.048,0.048,0.048,
           0.048,0.049,0.049,0.049,0.049,0.050,0.050,0.050,0.050,0.051,
           0.051,0.051,0.051,0.052,0.052,0.052,0.052,0.053,0.053,0.053,
           0.053,0.054,0.054,0.054,0.054,0.055,0.055,0.055,0.055,0.056,
           0.056,0.056,0.056,0.057,0.057,0.057,0.057,0.058,0.058,0.058,
           0.058,0.059,0.059,0.059,0.059,0.059,0.060,0.060,0.060,0.060,
           0.060,0.060,0.060,0.060,0.060,0.060,0.060,0.060,0.060,0.060,
           0.060,0.060,0.060,0.060,0.060,0.060,0.060,0.060,0.060,0.060]
dry_SEA = [0.004,0.004,0.004,0.004,0.004,0.004,0.004,0.004,0.004,0.004,
           0.004,0.004,0.004,0.004,0.004,0.004,0.004,0.004,0.004,0.004,
           0.004,0.004,0.004,0.004,0.004,0.004,0.004,0.004,0.004,0.004,
           0.004,0.004,0.004,0.004,0.004,0.004,0.004,0.004,0.004,0.004,
           0.004,0.004,0.004,0.004,0.004,0.004,0.004,0.004,0.004,0.004,
           0.004,0.004,0.004,0.004,0.004,0.004,0.004,0.004,0.004,0.004,
           0.004,0.004,0.004,0.004,0.004,0.004,0.004,0.004,0.004,0.004,
           0.004,0.004,0.004,0.004,0.004,0.004,0.004,0.004,0.004,0.004]
dry_SEU = [0.075,0.075,0.075,0.074,0.074,0.074,0.074,0.073,0.073,0.073,
           0.073,0.072,0.072,0.072,0.072,0.071,0.071,0.071,0.071,0.070,
           0.070,0.070,0.070,0.069,0.069,0.069,0.069,0.068,0.068,0.068,
           0.068,0.067,0.067,0.067,0.067,0.066,0.066,0.066,0.066,0.066,
           0.065,0.065,0.065,0.065,0.065,0.064,0.064,0.064,0.064,0.064,
           0.064,0.063,0.063,0.063,0.063,0.063,0.063,0.063,0.063,0.062,
           0.062,0.062,0.062,0.062,0.062,0.062,0.062,0.062,0.062,0.062,
           0.062,0.062,0.062,0.062,0.062,0.062,0.062,0.062,0.062,0.062]
dry_SSA = [0.066,0.066,0.067,0.067,0.067,0.068,0.068,0.068,0.069,0.069,
           0.069,0.070,0.070,0.070,0.071,0.071,0.071,0.072,0.072,0.072,
           0.073,0.073,0.073,0.074,0.074,0.074,0.075,0.075,0.075,0.076,
           0.076,0.076,0.077,0.077,0.077,0.078,0.078,0.078,0.079,0.079,
           0.079,0.080,0.080,0.080,0.081,0.081,0.081,0.082,0.082,0.082,
           0.083,0.083,0.083,0.084,0.084,0.084,0.085,0.085,0.085,0.086,
           0.086,0.086,0.086,0.087,0.087,0.087,0.087,0.087,0.088,0.088,
           0.088,0.088,0.088,0.088,0.088,0.088,0.088,0.088,0.088,0.088]
dry_WAS = [0.205,0.205,0.206,0.207,0.208,0.209,0.211,0.213,0.215,0.217,
           0.220,0.223,0.226,0.229,0.232,0.236,0.239,0.243,0.246,0.250,
           0.254,0.257,0.261,0.264,0.268,0.271,0.275,0.278,0.282,0.285,
           0.288,0.290,0.293,0.295,0.298,0.300,0.301,0.303,0.304,0.305,
           0.306,0.306,0.307,0.307,0.307,0.307,0.306,0.305,0.304,0.302,
           0.300,0.298,0.296,0.294,0.292,0.290,0.287,0.285,0.282,0.280,
           0.277,0.274,0.272,0.269,0.266,0.264,0.262,0.259,0.257,0.255,
           0.254,0.252,0.251,0.249,0.248,0.247,0.246,0.246,0.245,0.245]
dry_WEU = [0.030,0.030,0.030,0.030,0.030,0.030,0.030,0.030,0.030,0.030,
           0.030,0.030,0.030,0.030,0.030,0.030,0.030,0.030,0.030,0.030,
           0.031,0.031,0.031,0.031,0.031,0.031,0.031,0.031,0.031,0.031,
           0.032,0.032,0.032,0.032,0.032,0.032,0.032,0.032,0.032,0.032,
           0.032,0.032,0.032,0.032,0.032,0.032,0.032,0.032,0.032,0.032,
           0.033,0.033,0.033,0.033,0.033,0.033,0.033,0.033,0.033,0.033,
           0.034,0.034,0.034,0.034,0.034,0.034,0.034,0.034,0.034,0.034,
           0.034,0.034,0.034,0.034,0.034,0.034,0.034,0.034,0.034,0.034]

panels = [
    {"ANZ": warm_ANZ, "CAS": warm_CAS, "EAS": warm_EAS, "EEU": warm_EEU, "LAM": warm_LAM,
     "NAF": warm_NAF, "NAM": warm_NAM, "NEU": warm_NEU, "OCN": warm_OCN, "SAS": warm_SAS,
     "SEA": warm_SEA, "SEU": warm_SEU, "SSA": warm_SSA, "WAS": warm_WAS, "WEU": warm_WEU},
    {"ANZ": cold_ANZ, "CAS": cold_CAS, "EAS": cold_EAS, "EEU": cold_EEU, "LAM": cold_LAM,
     "NAF": cold_NAF, "NAM": cold_NAM, "NEU": cold_NEU, "OCN": cold_OCN, "SAS": cold_SAS,
     "SEA": cold_SEA, "SEU": cold_SEU, "SSA": cold_SSA, "WAS": cold_WAS, "WEU": cold_WEU},
    {"ANZ": wet_ANZ, "CAS": wet_CAS, "EAS": wet_EAS, "EEU": wet_EEU, "LAM": wet_LAM,
     "NAF": wet_NAF, "NAM": wet_NAM, "NEU": wet_NEU, "OCN": wet_OCN, "SAS": wet_SAS,
     "SEA": wet_SEA, "SEU": wet_SEU, "SSA": wet_SSA, "WAS": wet_WAS, "WEU": wet_WEU},
    {"ANZ": dry_ANZ, "CAS": dry_CAS, "EAS": dry_EAS, "EEU": dry_EEU, "LAM": dry_LAM,
     "NAF": dry_NAF, "NAM": dry_NAM, "NEU": dry_NEU, "OCN": dry_OCN, "SAS": dry_SAS,
     "SEA": dry_SEA, "SEU": dry_SEU, "SSA": dry_SSA, "WAS": dry_WAS, "WEU": dry_WEU},
]
yticks = [[2.5, 5.0, 7.5, 10.0], [-4, -2, 0], [0.0, 0.1, 0.2], [0.0, 0.2, 0.4, 0.6]]
ytick_fmt = ["{:.1f}", "{:.0f}", "{:.1f}", "{:.1f}"]
ylims = [(1.29, 10.81), (-5.65, 0.26), (-0.0138, 0.2806), (-0.033, 0.67)]
xticks = list(range(2025, 2101, 5))

W, H = 2230, 1462
fig = plt.figure(figsize=(W / 100, H / 100), dpi=100)

def fx(px):
    return px / W

def fy(py):
    return 1 - py / H

# panel boxes in pixels: left, right, top, bottom
boxes = [(65, 1113, 51, 603), (1173, 2223, 51, 603),
         (65, 1113, 663, 1218), (1173, 2223, 663, 1218)]
strip_h = 43

for i, (l, r, t, b) in enumerate(boxes):
    ax = fig.add_axes([fx(l), fy(b), (r - l) / W, (b - t) / H])
    data = panels[i]
    # lines first, then points on top (like geom_line + geom_point)
    for reg in regions:
        vals = data[reg]
        ax.plot(years[:len(vals)], vals, color=colors[reg], lw=7,
                solid_capstyle="butt", solid_joinstyle="round", zorder=2)
    for reg in regions:
        vals = data[reg]
        ax.plot(years[:len(vals)], vals, ls="none", marker=markers[reg],
                color=colors[reg], ms=9.5 if markers[reg] != "x" else 10,
                mew=1.4 if markers[reg] == "x" else 0.5, zorder=3)
    ax.set_xlim(2020.9, 2100)
    ax.set_ylim(*ylims[i])
    ax.set_xticks(xticks)
    ax.set_yticks(yticks[i])
    ax.set_yticklabels([ytick_fmt[i].format(v).replace("-", "\u2212") for v in yticks[i]])
    ax.grid(True, color="#D4D4D4", lw=0.8, ls=(0, (2, 2)), zorder=0)
    ax.set_axisbelow(True)
    for side in ["left", "bottom"]:
        ax.spines[side].set_linewidth(3.6)
    for side in ["top", "right"]:
        ax.spines[side].set_linewidth(2.0)
    for sp in ax.spines.values():
        sp.set_color("black")
    ax.tick_params(axis="y", labelsize=16, labelcolor="#4D4D4D", length=4,
                   width=1.6, color="#333333", pad=4)
    if i >= 2:
        ax.tick_params(axis="x", labelsize=20, labelcolor="black", length=4,
                       width=1.6, color="#333333", pad=4, labelrotation=90)
    else:
        ax.tick_params(axis="x", length=0, labelbottom=False)
    # facet strip
    fig.add_artist(Rectangle((fx(l), fy(t)), (r - l) / W, strip_h / H,
                             transform=fig.transFigure, facecolor="#D9D9D9",
                             edgecolor="none"))
    fig.text(fx((l + r) / 2), fy(t - strip_h / 2), titles[i], ha="center",
             va="center", fontsize=15, color="#1A1A1A")

# legend: 5 columns x 3 rows, filled column-wise
key_x = [734, 911, 1092, 1275, 1447]
row_y = [1356, 1402, 1447]
key_w = 47
for c in range(5):
    fig.add_artist(Rectangle((fx(key_x[c]), fy(1462)), key_w / W, (1462 - 1333) / H,
                             transform=fig.transFigure, facecolor="#F2F2F2",
                             edgecolor="none"))
    for rr in range(3):
        reg = regions[c * 3 + rr]
        y = fy(row_y[rr])
        fig.add_artist(Line2D([fx(key_x[c] + 5), fx(key_x[c] + key_w - 5)], [y, y],
                              transform=fig.transFigure, color=colors[reg], lw=5.8,
                              solid_capstyle="butt"))
        fig.add_artist(Line2D([fx(key_x[c] + key_w / 2)], [y], transform=fig.transFigure,
                              ls="none", marker=markers[reg], color=colors[reg],
                              ms=9.5 if markers[reg] != "x" else 10,
                              mew=1.4 if markers[reg] == "x" else 0.5))
        fig.text(fx(key_x[c] + 84), y, reg, ha="left", va="center",
                 fontsize=18, color="black")

fig.savefig("out.png", dpi=100)
